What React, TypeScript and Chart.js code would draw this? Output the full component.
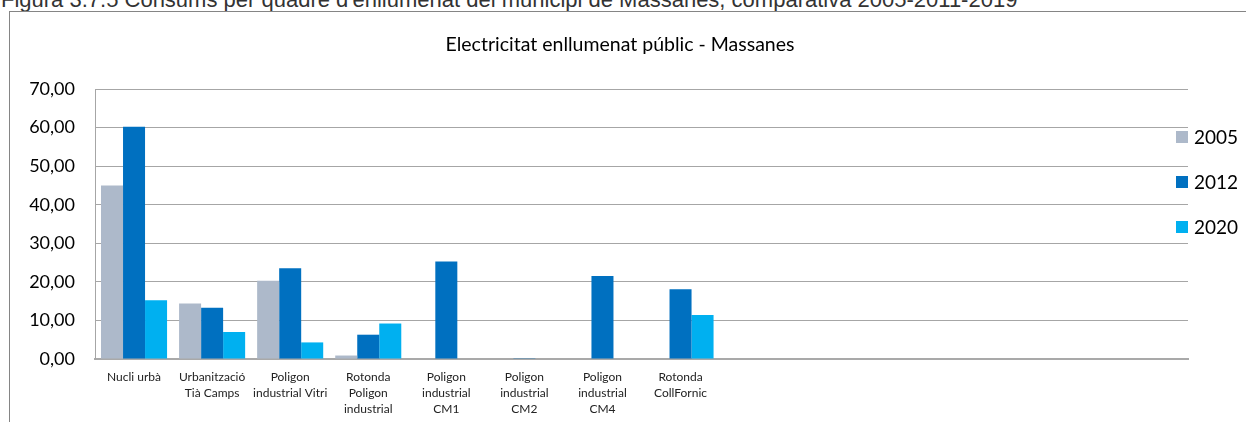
import React, { useEffect, useRef } from "react";
import { Chart, registerables } from "chart.js";

Chart.register(...registerables);

const categories: (string | string[])[] = [
  ["Nucli urbà"],
  ["Urbanització", "Tià Camps"],
  ["Poligon", "industrial Vitri"],
  ["Rotonda", "Poligon", "industrial"],
  ["Poligon", "industrial", "CM1"],
  ["Poligon", "industrial", "CM2"],
  ["Poligon", "industrial", "CM4"],
  ["Rotonda", "CollFornic"],
  "",
  "",
  "",
  "",
  "",
  "",
];

const seriesNames = ["2005", "2012", "2020"];
const seriesColors = ["#adb9ca", "#0070c0", "#00b0f0"];

const values2005 = [45.0, 14.4, 20.3, 0.9, null, null, null, null, null, null, null, null, null, null];
const values2012 = [60.2, 13.3, 23.5, 6.3, 25.3, 0.2, 21.5, 18.1, null, null, null, null, null, null];
const values2020 = [15.2, 7.0, 4.3, 9.2, null, null, null, 11.4, null, null, null, null, null, null];

const yTicks = [0, 10, 20, 30, 40, 50, 60, 70];

const chartTitle = "Electricitat enllumenat públic - Massanes";
const captionText =
  "Figura 3.7.5 Consums per quadre d'enllumenat del municipi de Massanes, comparativa 2005-2011-2019";

const FONT = "Lato, 'Open Sans', sans-serif";

export default function App() {
  const canvasRef = useRef<HTMLCanvasElement | null>(null);

  useEffect(() => {
    const canvas = canvasRef.current;
    if (!canvas) return;

    const overlay = {
      id: "overlay",
      afterDraw(chart: any) {
        const ctx = chart.ctx;
        const area = chart.chartArea;
        ctx.save();
        // title
        ctx.fillStyle = "#000";
        ctx.font = `19.5px ${FONT}`;
        ctx.textAlign = "center";
        ctx.textBaseline = "middle";
        ctx.fillText(chartTitle, 610, 33);
        // legend
        const sets = chart.data.datasets;
        ctx.textAlign = "left";
        ctx.font = `19px ${FONT}`;
        sets.forEach((ds: any, i: number) => {
          const cy = 125 + i * 45;
          const x = area.right - 12;
          ctx.fillStyle = ds.backgroundColor;
          ctx.fillRect(x, cy - 6, 12, 12);
          ctx.fillStyle = "#000";
          ctx.fillText(ds.label, x + 18, cy + 1);
        });
        ctx.restore();
      },
    };

    const chart = new Chart(canvas, {
      type: "bar",
      data: {
        labels: categories,
        datasets: [values2005, values2012, values2020].map((vals, i) => ({
          label: seriesNames[i],
          data: vals,
          backgroundColor: seriesColors[i],
          borderWidth: 0,
          categoryPercentage: 66 / 78,
          barPercentage: 1,
        })),
      },
      options: {
        animation: false,
        responsive: false,
        maintainAspectRatio: false,
        layout: { padding: { top: 77, right: 58, bottom: 0, left: 0 } },
        plugins: {
          legend: { display: false },
          title: { display: false },
          tooltip: { enabled: false },
        },
        scales: {
          x: {
            type: "category",
            grid: { display: false, drawTicks: false },
            border: { display: true, color: "#a9a9a9", width: 2 },
            ticks: {
              color: "#222",
              font: { family: FONT, size: 12, lineHeight: 16 / 12 },
              padding: 10,
              maxRotation: 0,
              minRotation: 0,
              autoSkip: false,
            },
            afterFit(scale: any) {
              scale.height = 63;
            },
          },
          y: {
            min: 0,
            max: 70,
            afterBuildTicks(scale: any) {
              scale.ticks = yTicks.map((v) => ({ value: v }));
            },
            grid: { color: "#a6a6a6", lineWidth: 1, drawTicks: false },
            border: { display: true, color: "#a6a6a6", width: 1 },
            ticks: {
              color: "#000",
              font: { family: FONT, size: 18 },
              padding: 20,
              callback: (v: any) => Number(v).toFixed(2).replace(".", ","),
            },
            afterFit(scale: any) {
              scale.width = 85;
            },
          },
        },
      },
      plugins: [overlay],
    });

    return () => chart.destroy();
  }, []);

  return (
    <div
      style={{
        position: "fixed",
        left: 0,
        top: 0,
        width: 1246,
        height: 422,
        overflow: "hidden",
        background: "#fff",
      }}
    >
      <div
        style={{
          position: "absolute",
          left: 1,
          top: -11,
          font: "22px 'Liberation Sans', Arial, sans-serif",
          lineHeight: "22px",
          color: "#333",
          whiteSpace: "nowrap",
        }}
      >
        {captionText}
      </div>
      <div
        style={{
          position: "absolute",
          left: 9,
          top: 11,
          width: 1400,
          height: 600,
          border: "1px solid #858585",
        }}
      />
      <canvas
        ref={canvasRef}
        width={1236}
        height={410}
        style={{ position: "absolute", left: 10, top: 12, width: 1236, height: 410 }}
      />
    </div>
  );
}
